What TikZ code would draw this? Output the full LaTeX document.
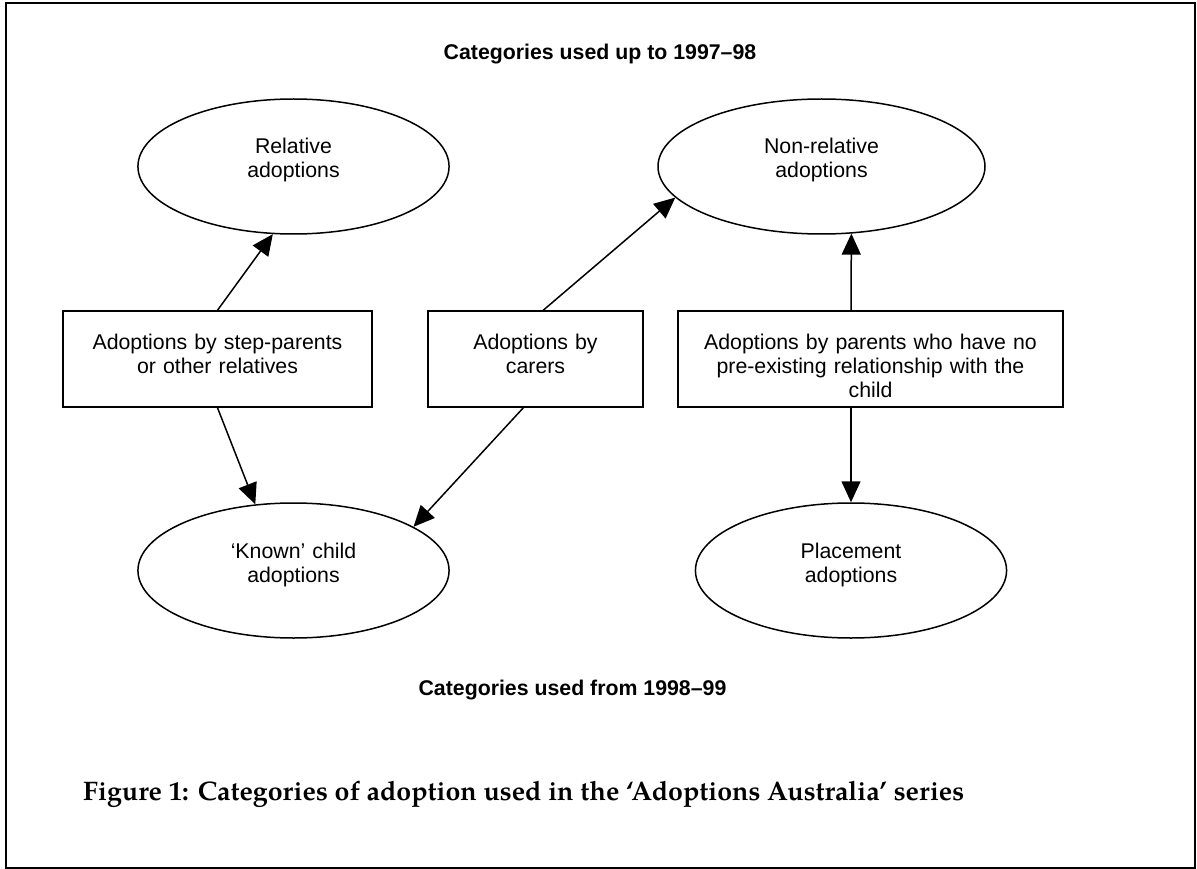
\documentclass[tikz,border=0pt]{standalone}
\usepackage{fontspec}
\setmainfont{Liberation Sans}
\newfontfamily\capfont{texgyrepagella-bold.otf}
\usepackage{tikz}
\usetikzlibrary{shapes,arrows.meta}

\begin{document}
\begin{tikzpicture}[x=1pt,y=-1pt]
            \tikzstyle{category}=[ellipse, minimum width=307pt, minimum height=135pt, inner sep=0pt, line width=1.5pt, draw=black, align=center, text width=220pt, text height=15pt, text depth=40pt, font=\fontsize{21.3}{24}\selectfont]
            \tikzstyle{adoptbox}=[rectangle, minimum height=96pt, inner sep=0pt, line width=1.5pt, draw=black, align=center, text height=38pt, text depth=58pt, font=\fontsize{21.3}{24}\selectfont]
            \tikzstyle{heading}=[anchor=base, font=\bfseries\fontsize{21.3}{24}\selectfont]
            \tikzstyle{connect}=[line width=1.5pt, -{Triangle[length=21pt,width=19pt]}]
            \useasboundingbox (0,0) rectangle (1197,869);
            \draw[line width=2pt] (6,3) rectangle (1195,867.5);

            \node[heading] (upto) at (600,60){Categories used up to 1997--98};
            \node[category] (rel) at (293.5,166.5){Relative\\adoptions};
            \node[category, minimum width=327pt] (nonrel) at (821.5,166.5){Non-relative\\adoptions};

            \node[adoptbox, text width=309pt] (b1) at (217.5,359){Adoptions by step-parents\\or other relatives};
            \node[adoptbox, text width=215pt] (b2) at (535.5,359){Adoptions by\\carers};
            \node[adoptbox, text width=385pt] (b3) at (870.5,359){Adoptions by parents who have no\\pre-existing relationship with the\\child};

            \node[category] (known) at (293.5,570.5){‘Known’ child\\adoptions};
            \node[category] (place) at (851,570.5){Placement\\adoptions};
            \node[heading] (from) at (572.5,695){Categories used from 1998--99};

            \node[anchor=base west, inner sep=0pt, font=\capfont\fontsize{26.8}{30}\selectfont] (caption) at (83,800.5){Figure 1: Categories of adoption used in the ‘Adoptions Australia’ series};

            % old categories above, new ones below
            \path (b1.north) edge [connect] (rel.253);
            \path (b1.south) edge [connect] (known.120);
            \path (b2.81) edge [connect] (nonrel.192);
            \path (b2.256) edge [connect] (known.20);
            \path (b3.north -| place.north) edge [connect] (nonrel.294);
            \path (b3.south -| place.north) edge [connect] (place.north);
        \end{tikzpicture}
\end{document}
